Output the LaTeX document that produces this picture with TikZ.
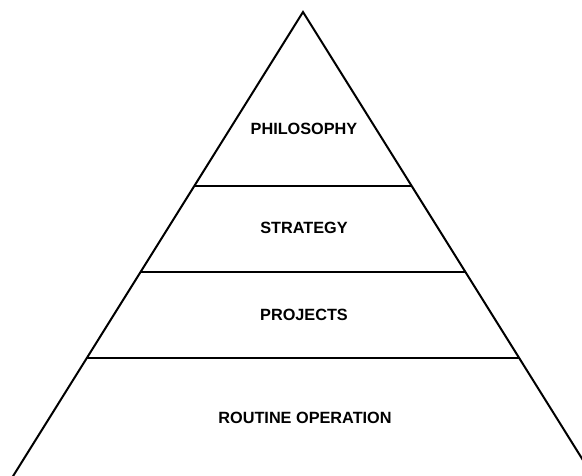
\documentclass[tikz,border=0pt]{standalone}
\usepackage{fontspec}
\setmainfont{Liberation Sans}
\begin{document}
\begin{tikzpicture} [x=0.75pt,y=-0.75pt,line width=1.5pt,every node/.style={font=\bfseries\fontsize{12.2}{14}\selectfont}]
\useasboundingbox (0,0) rectangle (582,475);
\clip (0,0) rectangle (582,475);
\coordinate (top) at (303,12);
\coordinate (bl) at (-10,513);
\coordinate (br) at (616,513);
\coordinate (l1) at (194.25,186);
\coordinate (r1) at (411.75,186);
\coordinate (l2) at (140.5,272);
\coordinate (r2) at (465.5,272);
\coordinate (l3) at (86.75,358);
\coordinate (r3) at (519.25,358);
\draw (bl) -- (top) -- (br);
\draw (l1) -- (r1);
\draw (l2) -- (r2);
\draw (l3) -- (r3);
\node (philosophy) at (304,129) {PHILOSOPHY};
\node (strategy) at (304,228) {STRATEGY};
\node (projects) at (304,315) {PROJECTS};
\node (routine) at (305,418) {ROUTINE OPERATION};
\end{tikzpicture}
\end{document}
